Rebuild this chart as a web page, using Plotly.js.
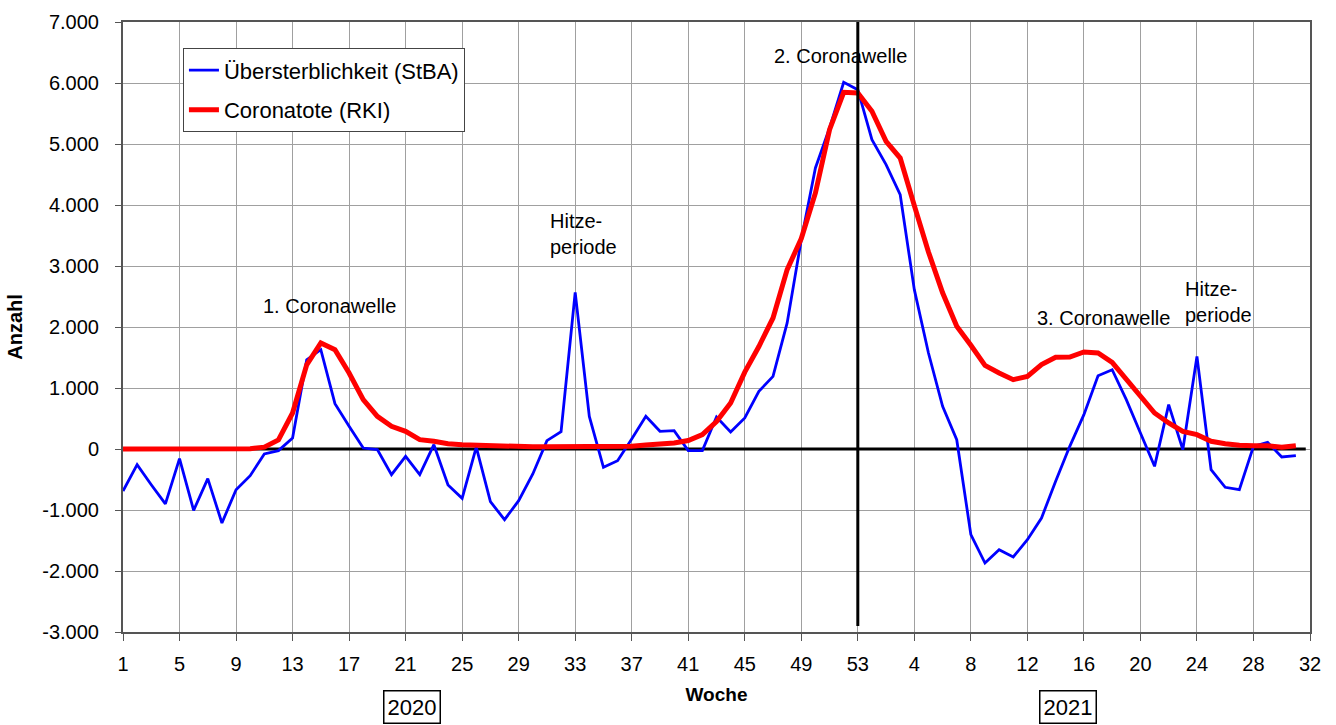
<!DOCTYPE html>
<html>
<head>
<meta charset="utf-8">
<script src="https://cdn.plot.ly/plotly-3.0.1.min.js"></script>
<style>html,body{margin:0;padding:0;background:#fff;}#chart{width:1336px;height:725px;}</style>
</head>
<body>
<div id="chart"></div>
<script>
// Weekly values: 2020 weeks 1-53, then 2021 weeks 1-31
const uebersterblichkeit = [
  -690, -257, -585, -900, -158, -1005, -486, -1213, -667, -437,
  -82, -27, 180, 1464, 1628, 743, 372, 16, -11, -420,
  -120, -420, 71, -590, -809, 30, -863, -1158, -847, -410,
  137, 284, 2568, 535, -300, -191, 164, 535, 290, 300,
  -27, -27, 525, 279, 508, 945, 1191, 2066, 3432, 4607,
  5262, 6011, 5891,
  5071, 4661, 4169, 2612, 1574, 699, 153, -1404, -1869, -1650,
  -1770, -1486, -1131, -530, 44, 563, 1202, 1300, 809, 262,
  -284, 727, -11, 1519, -339, -628, -667, 44, 109, -131,
  -109
];
const coronatote = [
  0, 0, 0, 0, 0, 0, 0, 0, 0, 5,
  30, 150, 590, 1380, 1738, 1628, 1246, 809, 535, 372,
  290, 153, 126, 87, 70, 60, 50, 40, 40, 35,
  35, 35, 40, 50, 40, 35, 45, 65, 80, 100,
  140, 235, 450, 754, 1260, 1680, 2148, 2940, 3450, 4197,
  5235, 5847, 5836,
  5536, 5044, 4770, 3990, 3230, 2560, 2011, 1700, 1370, 1246,
  1137, 1191, 1383, 1503, 1508, 1590, 1574, 1420, 1150, 863,
  590, 426, 290, 235, 126, 87, 60, 55, 55, 27,
  55
];
const seriesNames = ["Übersterblichkeit (StBA)", "Coronatote (RKI)"];
const xTickLabels = ["1","5","9","13","17","21","25","29","33","37","41","45","49","53",
                     "4","8","12","16","20","24","28","32"];
const yTickValues = [-3000,-2000,-1000,0,1000,2000,3000,4000,5000,6000,7000];
const yTickLabels = ["-3.000","-2.000","-1.000","0","1.000","2.000","3.000","4.000","5.000","6.000","7.000"];
const yearLabels = ["2020", "2021"];
const annotationTexts = ["1. Coronawelle", "Hitze-<br>periode", "2. Coronawelle", "3. Coronawelle", "Hitze-<br>periode"];

const xPos = uebersterblichkeit.map((_, i) => i + 1);
const xTickVals = xTickLabels.map((_, i) => 1 + i * 4);
const F = "Liberation Sans, Arial, sans-serif";

const traces = [
  {x: xPos, y: uebersterblichkeit, type: "scatter", mode: "lines", name: seriesNames[0],
   legendgroup: "a", line: {color: "#0000FF", width: 2.8}},
  {x: xPos, y: coronatote, type: "scatter", mode: "lines", name: seriesNames[1],
   legendgroup: "b", line: {color: "#FF0000", width: 5}}
];

const layout = {
  width: 1336, height: 725,
  margin: {l: 123, r: 26, t: 22, b: 93, pad: 0},
  paper_bgcolor: "#fff", plot_bgcolor: "#fff",
  font: {family: F, color: "#000", size: 20},
  showlegend: true,
  legend: {x: 0.0505, y: 0.957, xanchor: "left", yanchor: "top",
           bgcolor: "#fff", bordercolor: "#444", borderwidth: 1,
           font: {family: F, size: 22, color: "#000"},
           traceorder: "grouped", tracegroupgap: 8},
  xaxis: {range: [1, 85], tickmode: "array", tickvals: xTickVals, ticktext: xTickLabels,
          showgrid: true, gridcolor: "#a0a0a0", gridwidth: 1,
          ticks: "outside", ticklen: 7, tickcolor: "#555", tickwidth: 1,
          showline: true, linecolor: "#555", linewidth: 2, mirror: true, zeroline: false,
          tickfont: {family: F, size: 20, color: "#000"}, ticklabelstandoff: 6,
          title: {text: "<b>Woche</b>", font: {family: F, size: 19, color: "#000"}, standoff: 14}},
  yaxis: {range: [-3000, 7000], tickmode: "array", tickvals: yTickValues, ticktext: yTickLabels,
          showgrid: true, gridcolor: "#a0a0a0", gridwidth: 1,
          ticks: "outside", ticklen: 6, tickcolor: "#555", tickwidth: 1,
          showline: true, linecolor: "#555", linewidth: 2, mirror: true, zeroline: false,
          tickfont: {family: F, size: 20, color: "#000"}, ticklabelstandoff: 12,
          title: {text: "<b>Anzahl</b>", font: {family: F, size: 20, color: "#000"}, standoff: 14}},
  shapes: [
    {type: "line", xref: "x", yref: "y", x0: 1, x1: 84.7, y0: 0, y1: 0,
     line: {color: "#000", width: 3}, layer: "between"},
    {type: "line", xref: "x", yref: "y", x0: 53, x1: 53, y0: -2900, y1: 7000,
     line: {color: "#000", width: 3}, layer: "above"}
  ],
  annotations: [
    {x: 15.6, y: 2344, xref: "x", yref: "y", text: annotationTexts[0], showarrow: false,
     font: {family: F, size: 20}},
    {x: 31.05, y: 3525, xref: "x", yref: "y", text: annotationTexts[1], showarrow: false,
     xanchor: "left", align: "left", font: {family: F, size: 20}},
    {x: 51.8, y: 6443, xref: "x", yref: "y", text: annotationTexts[2], showarrow: false,
     font: {family: F, size: 20}},
    {x: 70.4, y: 2148, xref: "x", yref: "y", text: annotationTexts[3], showarrow: false,
     font: {family: F, size: 20}},
    {x: 76.0, y: 2410, xref: "x", yref: "y", text: annotationTexts[4], showarrow: false,
     xanchor: "left", align: "left", font: {family: F, size: 20}},
    {x: 21.45, y: -0.123, xref: "x", yref: "paper", yanchor: "middle", text: yearLabels[0], showarrow: false,
     bordercolor: "#000", borderwidth: 1.5, borderpad: 3, bgcolor: "#fff",
     font: {family: F, size: 22}},
    {x: 67.9, y: -0.123, xref: "x", yref: "paper", yanchor: "middle", text: yearLabels[1], showarrow: false,
     bordercolor: "#000", borderwidth: 1.5, borderpad: 3, bgcolor: "#fff",
     font: {family: F, size: 22}}
  ]
};

Plotly.newPlot("chart", traces, layout, {displayModeBar: false, staticPlot: true});
</script>
</body>
</html>
